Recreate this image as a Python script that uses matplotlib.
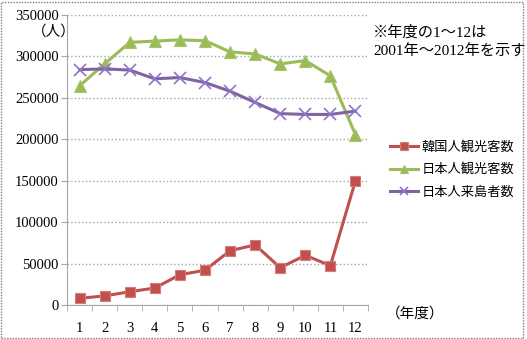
import matplotlib.pyplot as plt
from matplotlib.patches import Rectangle

# 年度 1〜12 (2001〜2012)
years = [1, 2, 3, 4, 5, 6, 7, 8, 9, 10, 11, 12]
korea_tourists = [8000, 11000, 16000, 20500, 36500, 42000, 65500, 72500, 45000, 60000, 47500, 150000]
japan_tourists = [264500, 291000, 317000, 318500, 320000, 319000, 305500, 303000, 291000, 295000, 276500, 205500]
japan_visitors = [284000, 285000, 283500, 273000, 274500, 268500, 258000, 244500, 231000, 230000, 230000, 234000]
series_names = ['韓国人観光客数', '日本人観光客数', '日本人来島者数']
yticks = [0, 50000, 100000, 150000, 200000, 250000, 300000, 350000]

serif = ['Liberation Serif', 'Noto Sans CJK JP']
jp = ['Noto Sans CJK JP', 'DejaVu Sans']

fig = plt.figure(figsize=(5.27, 3.39), dpi=100)
ax = fig.add_axes([67 / 527, 1 - 305 / 339, 301 / 527, 290 / 339])

ax.plot(years, korea_tourists, color='#C0504D', lw=2.2, marker='s', ms=7,
        mfc='#C0504D', mec='#D77B78', mew=0.8, label=series_names[0])
ax.plot(years, japan_tourists, color='#9BBB59', lw=2.2, marker='^', ms=8,
        mfc='#9BBB59', mec='#A8C46A', mew=0.8, label=series_names[1])
ax.plot(years, japan_visitors, color='#8064A2', lw=2.2, marker='x', ms=8,
        mec='#8F74C9', mew=1.2, label=series_names[2])

ax.set_xlim(0.5, 12.5)
ax.set_ylim(0, 350000)
ax.set_yticks(yticks)
ax.set_yticklabels([str(v) for v in yticks], family=serif, fontsize=10.5)
ax.set_xticks(years)
ax.set_xticklabels([str(y) for y in years], family=serif, fontsize=10.5)
ax.set_xticks([y + 0.5 for y in range(0, 13)], minor=True)

ax.grid(axis='y', color='#A6A6A6', ls=':', lw=1)
ax.tick_params(axis='x', which='major', length=0, pad=12)
ax.tick_params(axis='x', which='minor', length=4, color='#A6A6A6', direction='out')
ax.tick_params(axis='y', length=4, color='#A6A6A6', direction='out', pad=2)
for side in ['top', 'right']:
    ax.spines[side].set_visible(False)
ax.spines['left'].set_color('#A6A6A6')
ax.spines['bottom'].set_color('#A6A6A6')

fig.text(32 / 527, 1 - 32 / 339, '（人）', family=serif, fontsize=10.5, va='center')
fig.text(373 / 527, 1 - 32 / 339, '※年度の1～12は', family=serif, fontsize=11, va='center')
fig.text(373 / 527, 1 - 52 / 339, '2001年～2012年を示す', family=serif, fontsize=11, va='center')
fig.text(386 / 527, 1 - 314 / 339, '（年度）', family=serif, fontsize=10.5, va='center')

leg = ax.legend(loc='upper left', bbox_to_anchor=(385 / 527, 1 - 135 / 339),
                bbox_transform=fig.transFigure, frameon=False, prop={'family': jp, 'size': 9.5},
                handlelength=2.1, handletextpad=0.3, labelspacing=0.75, borderaxespad=0,
                markerscale=0.8)

# 外枠（点線）
fig.patches.append(Rectangle((1 / 527, 1 / 339), 522 / 527, 336 / 339, transform=fig.transFigure,
                             fill=False, ec='#808080', lw=1, ls=(0, (1, 1))))

fig.savefig('out.png', dpi=100)
